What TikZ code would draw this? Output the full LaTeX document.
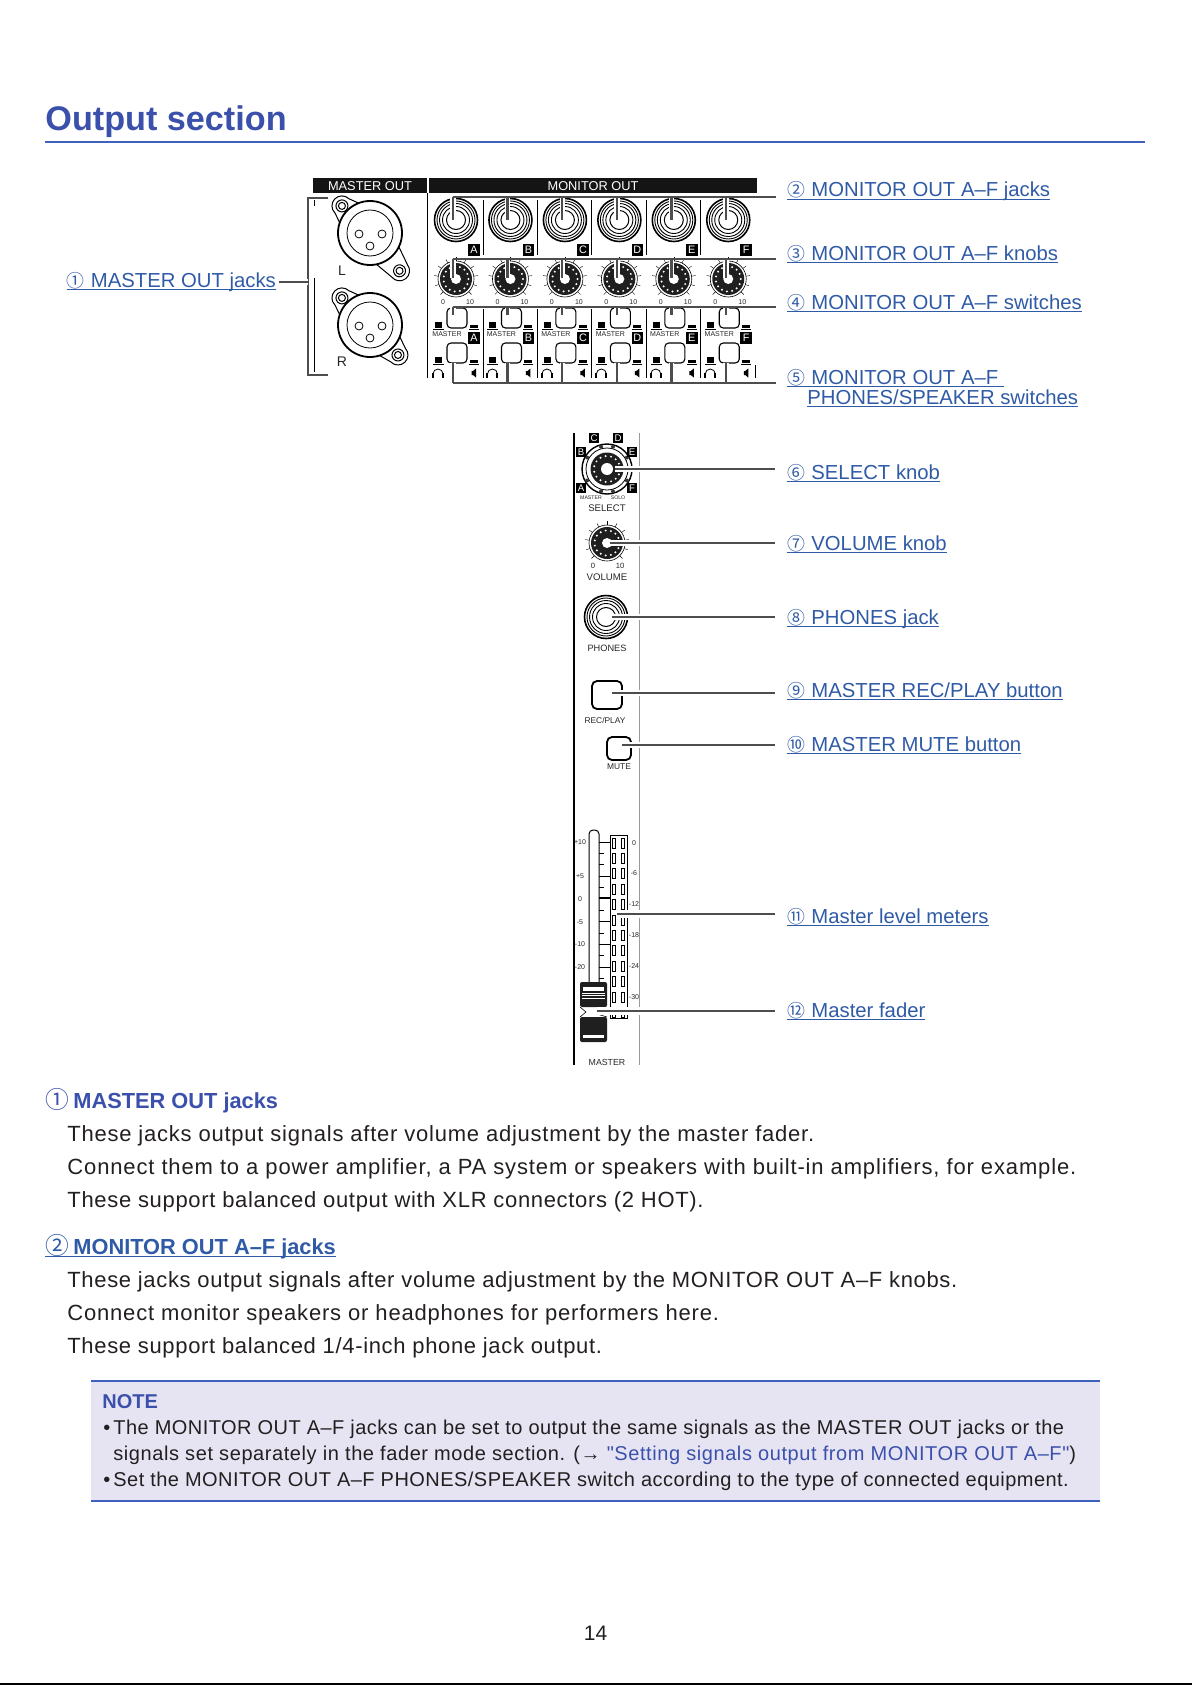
\documentclass[tikz,border=0pt]{standalone}
\usepackage{fontspec}
\setmainfont{Liberation Sans}
\newfontfamily\circfont{Noto Sans CJK JP}[Scale=0.88]
\newfontfamily\bodyfont{Liberation Sans}[LetterSpace=3.7]
\newfontfamily\notefont{Liberation Sans}[LetterSpace=2.3]
\newfontfamily\headfont{Liberation Sans}
\definecolor{titleblue}{HTML}{3A50AA}
\definecolor{linkblue}{HTML}{2F5AA6}
\definecolor{ruleblue}{HTML}{4060BE}
\definecolor{notefill}{HTML}{E6E4F3}
\definecolor{inktxt}{HTML}{231F20}
\definecolor{leadgray}{HTML}{4D4D4D}

% circled number, then text, underlined
\newcommand\lnk[3]{\underline{\smash{\hbox to #1{\circfont #2\hfil}#3}}}
\newcommand\circnum[2]{\hbox to #1{\circfont\mdseries\fontsize{13.5}{13}\selectfont #2\hfil}}
\newcommand\track[1]{\addfontfeature{LetterSpace=#1}}

\tikzset{
  leader/.style={draw=leadgray, line width=1.25pt, preaction={draw=white, line width=2.7pt}},
  wideleader/.style={draw=leadgray, line width=1.25pt, preaction={draw=white, line width=4pt}},
  label/.style={anchor=base west, inner sep=0pt, text=linkblue, font=\headfont\fontsize{10.15}{12}\selectfont},
  bodyline/.style={anchor=base west, inner sep=0pt, text=inktxt, font=\bodyfont\fontsize{11}{13}\selectfont},
  noteline/.style={anchor=base west, inner sep=0pt, text=inktxt, font=\notefont\fontsize{10}{12}\selectfont},
  headline/.style={anchor=base west, inner sep=0pt, font=\headfont\bfseries\fontsize{10.9}{13}\selectfont},
  lbox/.style={fill=black, text=white, minimum size=5.8pt, inner sep=0pt, font=\fontsize{5.4}{6}\selectfont},
  panel/.style={inner sep=0pt, text=black!85, font=\fontsize{4.4}{5}\selectfont},
  tiny/.style={inner sep=0pt, text=black!85, font=\fontsize{3.5}{4}\selectfont},
  barlabel/.style={inner sep=0pt, text=white, font=\fontsize{6.4}{7}\selectfont}
}

\newcommand\jack[2]{
  \draw[line width=.8pt] (#1,#2) circle (21.5);
  \foreach \r in {19,16.5,13.5} \draw[line width=.45pt] (#1,#2) circle (\r);
  \draw[line width=.5pt] (#1,#2) circle (9.5);
}
\newcommand\knob[2]{
  \foreach \a in {135,162,...,405} \draw[line width=.2pt] (#1,#2) ++(\a:16) -- ++(\a:6);
  \draw[line width=.3pt, fill=white] (#1,#2) circle (18);
  \fill[black!88] (#1,#2) circle (16);
  \foreach \a in {0,24,...,336} \fill[white] (#1,#2) ++(\a:12.5) circle (1.1);
  \fill[white] (#1,#2) circle (5);
}

\begin{document}
\begin{tikzpicture}[x=.5pt, y=-.5pt]
  \useasboundingbox (0,0) rectangle (1192,1685);
  \draw[line width=.8pt] (0,1684.2) -- (1192,1684.2);

  % title
  \node[anchor=base west, inner sep=0pt, text=titleblue, font=\headfont\bfseries\fontsize{17.1}{20}\selectfont] (title) at (45,131) {Output section};
  \draw[ruleblue, line width=.6pt] (45,142) -- (1145,142);

  % top panel
  \fill[black!92] (313,178) rectangle (427,193);
  \fill[black!92] (429,178) rectangle (757,193);
  \node[barlabel] (mastbar) at (370,186) {MASTER OUT};
  \node[barlabel] (monbar) at (593,186) {MONITOR OUT};
  \draw[line width=.5pt] (427,193) -- (427,378);
  \draw[line width=.2pt] (314,278) -- (314,372);
  \draw[line width=.2pt] (314,200) -- (314,206);

  % XLR
  \foreach \nm/\cy/\ang/\d in {L/233/-52/48,R/325/-47/41} {
    \begin{scope}[shift={(370,\cy)}]
      \foreach \aa/\dd in {136/39,\ang/\d} {
        \begin{scope}[rotate=\aa]
          \draw[line width=.5pt, fill=white] (25,-15) -- (\dd,-10) arc (-90:90:10) -- (25,15) -- cycle;
          \draw[line width=.5pt] (\dd,0) circle (6);
          \draw[line width=.5pt] (\dd,0) circle (3.5);
        \end{scope}
      }
      \draw[line width=.9pt, fill=white] (0,0) circle (32);
      \draw[line width=.4pt] (0,0) circle (23);
      \foreach \px/\py in {-11/1,12/1,0/13} \draw[line width=.4pt] (\px,\py) circle (4);
    \end{scope}
  }
  \node[panel, font=\fontsize{7}{8}\selectfont] (lL) at (342,271) {L};
  \node[panel, font=\fontsize{7}{8}\selectfont] (lR) at (342,362) {R};

  % six monitor channels
  \foreach \i/\L in {0/A,1/B,2/C,3/D,4/E,5/F} {
    \pgfmathsetmacro\cx{456+54.45*\i}
    \jack{\cx}{220}
    \knob{\cx}{279}
    \node[lbox] (jk\L) at ({\cx+18},250) {\L};
    \node[tiny] (zero\L) at ({\cx-13},302) {0};
    \node[tiny] (ten\L) at ({\cx+14},302) {10};
    \draw[line width=.55pt, rounded corners=2pt] ({\cx-9},308) rectangle ({\cx+11},328);
    \draw[line width=.55pt, rounded corners=2pt] ({\cx-9},343) rectangle ({\cx+11},363);
    \fill ({\cx-21},322) rectangle ({\cx-14},328);
    \fill ({\cx-21},357) rectangle ({\cx-14},363);
    \fill ({\cx+14},325) rectangle ({\cx+22},328);
    \fill ({\cx+14},360) rectangle ({\cx+22},363);
    \draw[line width=.3pt] ({\cx-23},329) -- ({\cx-12},329) ({\cx+13},329) -- ({\cx+23},329);
    \draw[line width=.3pt] ({\cx-23},364) -- ({\cx-12},364) ({\cx+13},364) -- ({\cx+23},364);
    \node[tiny] (mast\L) at ({\cx-9},334) {MASTER};
    \node[lbox] (sw\L) at ({\cx+18},338) {\L};
    % headphones and speaker
    \draw[line width=.4pt] ({\cx-23},374) arc (180:360:5);
    \fill ({\cx-24},373) rectangle ({\cx-22},378);
    \fill ({\cx-14},373) rectangle ({\cx-12},378);
    \fill ({\cx+15.5},371) -- ({\cx+17},371) -- ({\cx+20},368.5) -- ({\cx+20},377.5) -- ({\cx+17},375) -- ({\cx+15.5},375) -- cycle;
    % separators
    \draw[line width=.5pt] ({\cx+27},365) -- ({\cx+27},378);
    \ifnum\i<5
      \draw[line width=.5pt] ({\cx+27},200) -- ({\cx+27},255);
      \draw[line width=.5pt] ({\cx+27},309) -- ({\cx+27},365);
    \fi
  }

  % side panel
  \draw[line width=.9pt] (574,433) -- (574,1065);
  \draw[black!40, line width=.5pt] (639,433) -- (639,1065);

  % SELECT
  \draw[line width=.7pt] (607,469) circle (25);
  \draw[line width=.4pt] (607,469) circle (21);
  \foreach \a in {30,75,105,150,210,255,285,330} \fill[black!80] (607,469) ++(\a:23) circle (2);
  \fill[black!88] (607,469) circle (16.5);
  \foreach \a in {0,24,...,336} \fill[white] (607,469) ++(\a:13) circle (1.1);
  \fill[white] (607,469) circle (6);
  \foreach \L/\lx/\ly in {C/594/438,D/618/438,B/581/452,E/632/452,A/581/488,F/632/488}
    \node[lbox, minimum size=5pt, font=\fontsize{4.8}{5}\selectfont] (sel\L) at (\lx,\ly) {\L};
  \node[tiny, font=\fontsize{2.6}{3}\selectfont] (selm) at (591,498) {MASTER};
  \node[tiny, font=\fontsize{2.6}{3}\selectfont] (sels) at (618,498) {SOLO};
  \node[panel, font=\fontsize{4.8}{5}\selectfont] (sell) at (607,508) {SELECT};

  % VOLUME
  \knob{607}{543}
  \node[tiny, font=\fontsize{3.8}{4}\selectfont] (vol0) at (593,566) {0};
  \node[tiny, font=\fontsize{3.8}{4}\selectfont] (vol10) at (620,566) {10};
  \node[panel, font=\fontsize{4.8}{5}\selectfont] (voll) at (607,577) {VOLUME};

  % PHONES
  \jack{606}{617}
  \node[panel, font=\fontsize{4.6}{5}\selectfont] (phl) at (607,648) {PHONES};

  % buttons
  \draw[line width=.9pt, rounded corners=2.5pt] (592,681) rectangle (622,709);
  \node[panel, font=\fontsize{4.2}{5}\selectfont] (recl) at (605,720) {REC/PLAY};
  \draw[line width=.9pt, rounded corners=2.5pt] (607,737) rectangle (631,760);
  \node[panel, font=\fontsize{4.2}{5}\selectfont] (mutl) at (619,767) {MUTE};

  % fader track and meters
  \draw[line width=.5pt, rounded corners=2pt] (589,982) -- (589,830) -- (599,830) -- (599,982);
  \draw[line width=.5pt] (610,835) rectangle (627,1018);
  \foreach \k in {0,...,11} {
    \draw[line width=.35pt] (612.5,{838+15.4*\k}) rectangle (615.5,{848+15.4*\k});
    \draw[line width=.35pt] (621,{838+15.4*\k}) rectangle (624,{848+15.4*\k});
  }
  \foreach \ty in {842,876,921,944,967} \draw[line width=.3pt] (599,\ty) -- (610,\ty);
  \draw[line width=.6pt] (599,898) -- (610,898);
  \foreach \ty in {853,864,887,910,933,955,978} \draw[line width=.3pt] (599,\ty) -- (604,\ty);
  \foreach \tx/\ty/\nm in {+10/842/a,+5/876/b,0/899/c,-5/922/d,-10/944/e,-20/967/f} 
    \node[tiny] (fad\nm) at (580,\ty) {\tx};
  \foreach \tx/\ty/\nm in {0/843/a,-6/873/b,-12/904/c,-18/935/d,-24/966/e,-30/997/f} 
    \node[tiny] (met\nm) at (634,\ty) {\tx};

  % fader cap
  \fill[black!88, rounded corners=1pt] (580,982) rectangle (607,1007);
  \fill[black!88, rounded corners=1pt] (580,1017) rectangle (607,1042);
  \fill[white] (583,987) rectangle (604,991);
  \foreach \sy in {993,995.5,998} \draw[white, line width=.2pt] (582,\sy) -- (605,\sy);
  \fill[white] (583,1035) rectangle (604,1038);
  \draw[line width=.3pt] (580,1007) -- (586,1012) -- (580,1017) (607,1007) -- (597,1009) (607,1017) -- (597,1014);
  \node[panel, font=\fontsize{4.4}{5}\selectfont] (masl) at (607,1062) {MASTER};

  % leader ends
  \coordinate (b1) at (308,198);
  \coordinate (b2) at (308,375);
  \coordinate (l1) at (279,282);
  \coordinate (b1m) at (308,282);
  \draw[draw=leadgray, line width=1.25pt] (328,198) -- (b1) -- (b2) -- (328,375);
  \draw[leader] (l1) -- (b1m);

  \foreach \yy/\nm in {197/two,259/three,307/four,383/five}
    \coordinate (end\nm) at (776,\yy);
  \coordinate (st2) at (452.5,197);
  \coordinate (st3) at (452.5,259);
  \coordinate (st4) at (452.5,307);
  \coordinate (st5) at (452.5,383);
  \foreach \i in {0,...,5} {
    \pgfmathsetmacro\dx{453+54.6*\i}
    \draw[leader] (\dx,197) -- (\dx,220);
    \draw[leader] (\dx,259) -- (\dx,278);
    \draw[leader] (\dx,307) -- (\dx,315);
    \draw[leader] (\dx,363) -- (\dx,383);
  }
  \draw[draw=leadgray, line width=1.25pt] (st2) -- (endtwo);
  \draw[draw=leadgray, line width=1.25pt] (st3) -- (endthree);
  \draw[draw=leadgray, line width=1.25pt] (st4) -- (endfour);
  \draw[draw=leadgray, line width=1.25pt] (st5) -- (endfive);

  \foreach \sx/\yy/\nm in {615/469/six,610/543/seven,612/617/eight,612/693/nine,622/745/ten} {
    \coordinate (s\nm) at (\sx,\yy);
    \coordinate (e\nm) at (775,\yy);
    \draw[leader] (s\nm) -- (e\nm);
  }
  \coordinate (smeter) at (617,914);
  \coordinate (emeter) at (775,914);
  \coordinate (sfader) at (597,1011);
  \coordinate (efader) at (775,1011);
  \draw[wideleader] (smeter) -- (emeter);
  \draw[wideleader] (sfader) -- (efader);

  % labels
  \node[label] (lab1) at (66.5,287) {\lnk{12pt}{①}{MASTER OUT jacks}};
  \node[label] (lab2) at (787,197) {\lnk{12pt}{②}{MONITOR OUT A–F jacks}};
  \node[label] (lab3) at (787,260) {\lnk{12pt}{③}{MONITOR OUT A–F knobs}};
  \node[label] (lab4) at (787,309) {\lnk{12pt}{④}{MONITOR OUT A–F switches}};
  \node[label] (lab5) at (787,384) {\lnk{12pt}{⑤}{MONITOR OUT A–F\ }};
  \node[label] (lab5b) at (807,404) {\underline{\smash{PHONES/SPEAKER switches}}};
  \node[label] (lab6) at (787,479) {\lnk{12pt}{⑥}{SELECT knob}};
  \node[label] (lab7) at (787,550) {\lnk{12pt}{⑦}{VOLUME knob}};
  \node[label] (lab8) at (787,624) {\lnk{12pt}{⑧}{PHONES jack}};
  \node[label] (lab9) at (787,697) {\lnk{12pt}{⑨}{MASTER REC/PLAY button}};
  \node[label] (lab10) at (787,751) {\lnk{12pt}{⑩}{MASTER MUTE button}};
  \node[label] (lab11) at (787,923) {\lnk{12pt}{⑪}{Master level meters}};
  \node[label] (lab12) at (787,1017) {\lnk{12pt}{⑫}{Master fader}};

  % body
  \node[headline, text=titleblue] (headA) at (45,1108) {\circnum{14pt}{①}MASTER OUT jacks};
  \node[bodyline] (bodyA1) at (67,1141) {\track{3.5}These jacks output signals after volume adjustment by the master fader.};
  \node[bodyline] (bodyA2) at (67,1174) {\track{3.95}Connect them to a power amplifier, a PA system or speakers with built-in amplifiers, for example.};
  \node[bodyline] (bodyA3) at (67,1207) {\track{3.1}These support balanced output with XLR connectors (2 HOT).};

  \node[headline, text=linkblue] (headB) at (45,1254) {\underline{\smash{\circnum{14pt}{②}MONITOR OUT A–F jacks}}};
  \node[bodyline] (bodyB1) at (67,1287) {\track{3.0}These jacks output signals after volume adjustment by the MONITOR OUT A–F knobs.};
  \node[bodyline] (bodyB2) at (67,1320) {Connect monitor speakers or headphones for performers here.};
  \node[bodyline] (bodyB3) at (67,1353) {\track{3.0}These support balanced 1/4-inch phone jack output.};

  % note
  \fill[notefill] (91,1381) rectangle (1100,1501);
  \draw[ruleblue, line width=.6pt] (91,1381) -- (1100,1381);
  \draw[ruleblue, line width=.6pt] (91,1501) -- (1100,1501);
  \node[headline, text=titleblue, font=\headfont\bfseries\fontsize{10}{12}\selectfont] (notehd) at (102,1408) {NOTE};
  \node[noteline] (bul1) at (103,1434) {•};
  \node[noteline] (note1) at (113,1434) {The MONITOR OUT A–F jacks can be set to output the same signals as the MASTER OUT jacks or the};
  \node[noteline] (note2) at (113,1460) {\track{2.9}signals set separately in the fader mode section. (→ \textcolor{titleblue}{"Setting signals output from MONITOR OUT A–F"})};
  \node[noteline] (bul2) at (103,1486) {•};
  \node[noteline] (note3) at (113,1486) {Set the MONITOR OUT A–F PHONES/SPEAKER switch according to the type of connected equipment.};

  \node[anchor=base, inner sep=0pt, text=inktxt, font=\fontsize{10.5}{12}\selectfont] (page) at (595.5,1640) {14};
\end{tikzpicture}
\end{document}
